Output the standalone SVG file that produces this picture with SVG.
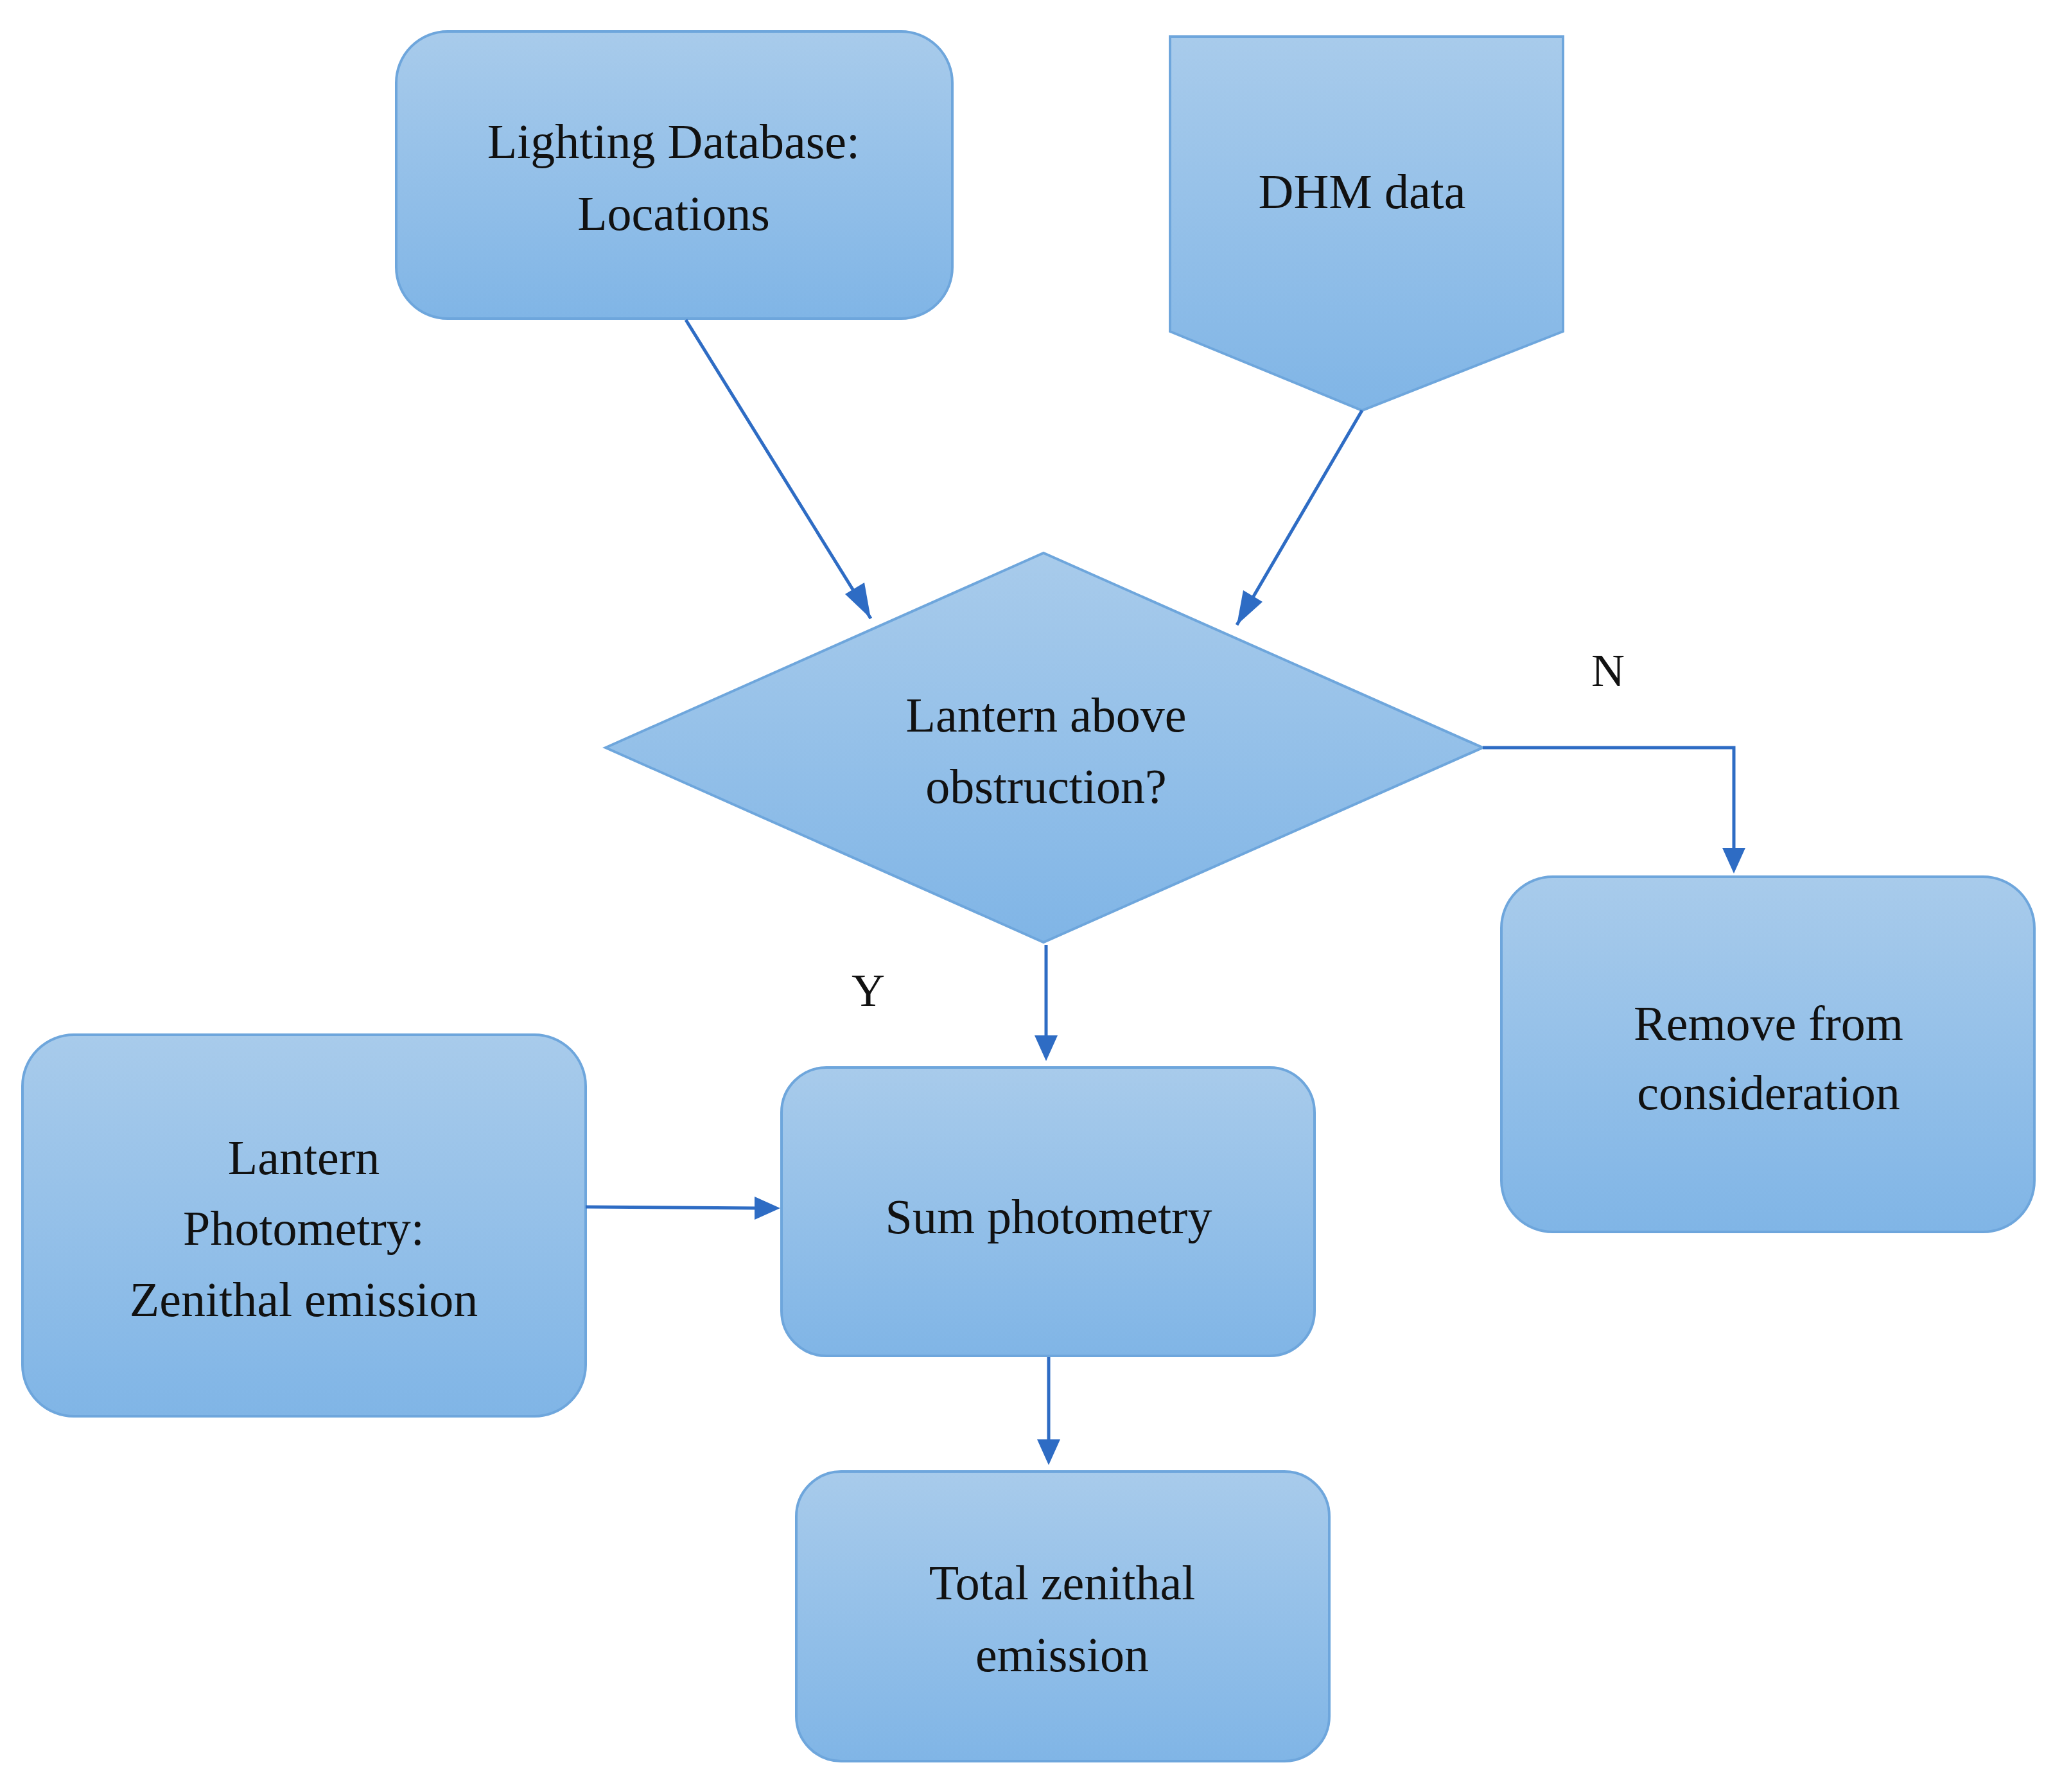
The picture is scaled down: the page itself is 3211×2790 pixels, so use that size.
<svg xmlns="http://www.w3.org/2000/svg" width="3211" height="2790" viewBox="0 0 3211 2790">
<style>
.n{fill:url(#g);stroke:#6ea6dc;stroke-width:4}
.t{font-family:"Liberation Serif",serif;font-size:76px;fill:#111;text-anchor:middle}
.c{fill:none;stroke:#2e6cc4;stroke-width:5;marker-end:url(#a)}
</style>
<defs>
<linearGradient id="g" x1="0" y1="0" x2="0" y2="1"><stop offset="0" stop-color="#a8cbeb"/><stop offset="1" stop-color="#80b5e6"/></linearGradient>
<marker id="a" viewBox="0 0 10 10" refX="9" refY="5" markerWidth="8" markerHeight="8" orient="auto" markerUnits="userSpaceOnUse" style="overflow:visible"><path d="M0,0 L10,5 L0,10 z" fill="#2e6cc4" transform="scale(1)"/></marker>
</defs>
<rect width="3211" height="2790" fill="#fff"/>
<g id="lighting"><rect class="n" x="617" y="49" width="866" height="447" rx="80"/><text class="t" x="1049" y="246">Lighting Database:</text><text class="t" x="1049" y="358">Locations</text></g>
<g id="dhm"><path class="n" d="M1822,57 H2434 V516 L2121,639 L1822,516 Z"/><text class="t" x="2121" y="324">DHM data</text></g>
<g id="decision"><path class="n" d="M943,1164 L1625,861 L2309,1164 L1625,1467 Z"/><text class="t" x="1629" y="1139">Lantern above</text><text class="t" x="1629" y="1250">obstruction?</text></g>
<g id="remove"><rect class="n" x="2338" y="1365" width="830" height="553" rx="80"/><text class="t" x="2754" y="1619">Remove from</text><text class="t" x="2754" y="1727">consideration</text></g>
<g id="lantern"><rect class="n" x="35" y="1611" width="877" height="594" rx="80"/><text class="t" x="473" y="1828">Lantern</text><text class="t" x="473" y="1938">Photometry:</text><text class="t" x="473" y="2049">Zenithal emission</text></g>
<g id="sum"><rect class="n" x="1217" y="1662" width="830" height="449" rx="70"/><text class="t" x="1633" y="1920">Sum photometry</text></g>
<g id="total"><rect class="n" x="1240" y="2291" width="830" height="451" rx="70"/><text class="t" x="1654" y="2490">Total zenithal</text><text class="t" x="1654" y="2602">emission</text></g>
<g id="connectors">
<path d="M1068,498 L1356,963" stroke="#2e6cc4" stroke-width="5" fill="none"/>
<path d="M1356,963 l-40,-38 l30,-18 z" fill="#2e6cc4"/>
<path d="M2121,639 L1926,973" stroke="#2e6cc4" stroke-width="5" fill="none"/>
<path d="M1926,973 l10,-54 l30,18 z" fill="#2e6cc4"/>
<path d="M2309,1164 H2700 V1325" stroke="#2e6cc4" stroke-width="5" fill="none"/>
<path d="M2700,1360 l-18,-40 h36 z" fill="#2e6cc4"/>
<path d="M1629,1471 V1620" stroke="#2e6cc4" stroke-width="5" fill="none"/>
<path d="M1629,1652 l-18,-40 h36 z" fill="#2e6cc4"/>
<path d="M912,1879 L1180,1881" stroke="#2e6cc4" stroke-width="5" fill="none"/>
<path d="M1215,1881 l-40,-18 v36 z" fill="#2e6cc4"/>
<path d="M1633,2113 V2248" stroke="#2e6cc4" stroke-width="5" fill="none"/>
<path d="M1633,2281 l-18,-40 h36 z" fill="#2e6cc4"/>
<text class="t" x="2504" y="1068" style="font-size:72px">N</text>
<text class="t" x="1352" y="1566" style="font-size:72px">Y</text>
</g>
</svg>
